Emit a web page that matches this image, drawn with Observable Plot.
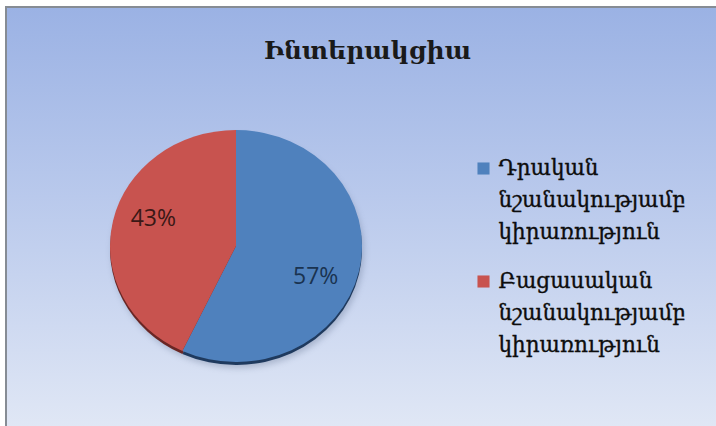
<!DOCTYPE html>
<html><head><meta charset="utf-8">
<script src="https://cdn.jsdelivr.net/npm/d3@7"></script>
<script src="https://cdn.jsdelivr.net/npm/@observablehq/plot@0.6"></script>
<style>
html,body{margin:0;padding:0;background:#fff;}
#chart{position:absolute;left:5px;top:6px;width:711px;height:420px;border-left:2px solid #868c94;border-top:2px solid #868c94;background:linear-gradient(#9bb2e4 0%,#b9c9ec 45%,#e0e7f5 100%);overflow:hidden}
#chart svg{background:transparent;display:block}
</style></head><body><div id="chart"></div>
<script>
const titleText = "Ինտերակցիա";
const categories = ["Դրական նշանակությամբ կիրառություն", "Բացասական նշանակությամբ կիրառություն"];
const values = [57, 43];
const sliceColors = ["#4f81bd", "#c8534f"];
const sideColors = ["#1f3a5e", "#6a2624"];
const labelColors = ["#1a3350", "#3a1816"];

// layout (pixels in the plot frame)
const W = 709, H = 418;
const pie = {cx: 229, cy: 238, rx: 126, ry: 116};
const legend = {x: 476, textX: 491, y0: 188, step: 113};
const labelR = 0.66;
const labelNudge = [13, -11];

const arcs = d3.pie().sort(null).value(d => d)(values);
const rows = categories.map((c, i) => ({
  name: c, value: values[i], color: sliceColors[i],
  label: values[i] + "%",
  mid: (arcs[i].startAngle + arcs[i].endAngle) / 2,
  nudge: labelNudge[i]
}));

function pieMark(index, scales) {
  const g = d3.create("svg:g");
  const cx = scales.x(pie.cx), cy = scales.y(pie.cy);
  const sy = pie.ry / pie.rx;
  const arc = d3.arc().innerRadius(0).outerRadius(pie.rx);
  const defs = g.append("defs");
  defs.append("filter").attr("id", "blur").append("feGaussianBlur").attr("stdDeviation", 3);
  g.append("ellipse").attr("cx", cx + 2).attr("cy", cy + 6).attr("rx", pie.rx).attr("ry", pie.ry)
    .attr("fill", "#5a6a88").attr("opacity", 0.35).attr("filter", "url(#blur)");
  g.append("g").attr("transform", `translate(${cx},${cy + 3}) scale(1,${sy})`)
    .selectAll("path").data(arcs).join("path")
    .attr("d", arc).attr("fill", (d, i) => sideColors[i]);
  g.append("g").attr("transform", `translate(${cx},${cy}) scale(1,${sy})`)
    .selectAll("path").data(arcs).join("path")
    .attr("d", arc).attr("fill", (d, i) => sliceColors[i]);
  return g.node();
}

const plot = Plot.plot({
  width: W, height: H,
  margin: 0,
  x: {domain: [0, W], range: [0, W], axis: null},
  y: {domain: [0, H], range: [0, H], axis: null},
  marks: [
    pieMark,
    Plot.text(rows, {
      x: d => pie.cx + Math.sin(d.mid) * pie.rx * labelR - 2,
      y: d => pie.cy - Math.cos(d.mid) * pie.ry * labelR + d.nudge,
      text: "label",
      fill: (d, i) => labelColors[i],
      fontSize: 23,
      fontFamily: "Open Sans",
      textAnchor: "middle"
    }),
    Plot.text([titleText], {
      x: () => 360, y: () => 42, text: d => d,
      fontSize: 25, fontWeight: "bold", fontFamily: "DejaVu Serif", fill: "#1a1a1a"
    }),
    Plot.dot(rows, {
      x: () => legend.x,
      y: (d, i) => legend.y0 + i * legend.step - 28,
      symbol: "square", r: 6.8, fill: "color"
    }),
    Plot.text(rows, {
      x: () => legend.textX,
      y: (d, i) => legend.y0 + i * legend.step,
      text: d => d.name.split(" ").join("\n"),
      textAnchor: "start", lineAnchor: "middle", lineHeight: 1.5,
      fontSize: 21.5, fontFamily: "DejaVu Serif", fill: "#0d0d0d",
      stroke: "#0d0d0d", strokeWidth: 0.35
    })
  ]
});
document.getElementById("chart").appendChild(plot);
</script>
</body></html>
